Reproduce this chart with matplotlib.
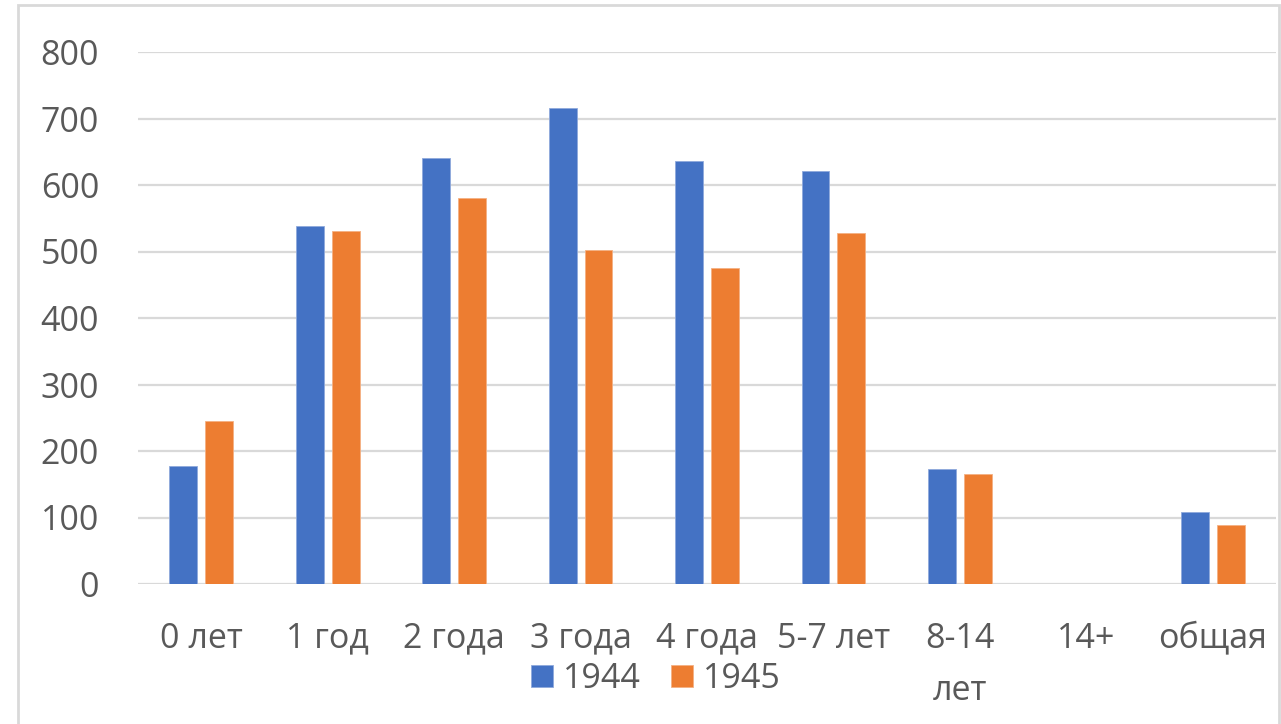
import numpy as np
import matplotlib
matplotlib.use("Agg")
import matplotlib.pyplot as plt
from matplotlib.patches import Rectangle

categories = ["0 лет", "1 год", "2 года", "3 года", "4 года", "5-7 лет", "8-14\nлет", "14+", "общая"]
series_1944 = [177, 538, 641, 716, 636, 621, 173, 0, 108]
series_1945 = [245, 531, 580, 502, 475, 528, 165, 0, 88]
labels = ["1944", "1945"]
yticks = [0, 100, 200, 300, 400, 500, 600, 700, 800]

blue = "#4472C4"
orange = "#ED7D31"
grey_text = "#595959"
grid_col = "#d9d9d9"

plt.rcParams['font.family'] = ['Open Sans', 'DejaVu Sans']

fig = plt.figure(figsize=(12.81, 7.24), dpi=100)
ax = fig.add_axes([138/1281, 1-584/724, (1276-138)/1281, (584-52)/724])

x = np.arange(len(categories))
w = 0.22
off = 0.142
ax.bar(x - off, series_1944, w, color=blue, label=labels[0], zorder=3,
       edgecolor="#8fa9dc", linewidth=0.6)
ax.bar(x + off, series_1945, w, color=orange, label=labels[1], zorder=3,
       edgecolor="#f4b183", linewidth=0.6)

ax.set_xlim(-0.5, len(categories) - 0.5)
ax.set_ylim(0, 800)
ax.set_yticks(yticks)
ax.set_yticklabels([str(v) for v in yticks])
ax.yaxis.grid(True, color=grid_col, linewidth=1.6, zorder=0)
ax.set_axisbelow(True)
for s in ax.spines.values():
    s.set_visible(False)
ax.tick_params(axis='y', length=0, pad=28, labelsize=24.5, labelcolor=grey_text)
ax.tick_params(axis='x', length=0, pad=27, labelsize=24.5, labelcolor=grey_text)
ax.set_xticks(x)
ax.set_xticklabels(categories, linespacing=1.7)

# border
fig.patches.append(Rectangle((18/1281, -0.05), (1279-18)/1281, 1.05 - 5/724,
                             transform=fig.transFigure, fill=False,
                             edgecolor=grid_col, linewidth=2))

fig.legend(loc='center', bbox_to_anchor=(656/1281, 1-679/724), ncol=2,
           frameon=False, fontsize=24.5, labelcolor=grey_text,
           handlelength=0.63, handleheight=0.63, handletextpad=0.3,
           columnspacing=0.9)

fig.savefig("out.png", dpi=100)
